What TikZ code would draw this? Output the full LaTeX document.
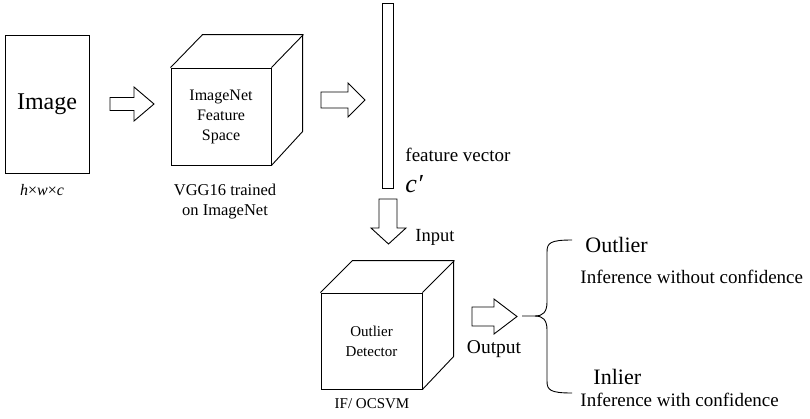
\documentclass[tikz,border=0pt]{standalone}
\usepackage{fontspec}
\setmainfont{Liberation Serif}
\begin{document}
\begin{tikzpicture}[x=1pt,y=-1pt, line width=0.9pt, line join=miter,
  fs/.style={inner sep=0pt, align=center, font=\fontsize{#1}{#1}\selectfont},
  barrow/.style={draw, fill=white},
  box/.style={draw, inner sep=0pt, align=center}]
\useasboundingbox (0,0) rectangle (810,418);

% Image
\node (img) [box, minimum width=84pt, minimum height=138pt, font=\fontsize{24}{28}\selectfont] at (47,104) {Image};
\node (dims) [fs=16] at (42,190) {{\itshape h}×{\itshape w}×{\itshape c}};

% arrow 1
\draw[barrow] (110,97.5) -- (134,97.5) -- (134,87) -- (154,104) -- (134,121) -- (134,110.5) -- (110,110.5) -- cycle;

% cube 1
\node (cube1) [box, minimum width=100pt, minimum height=97pt, font=\fontsize{16}{20}\selectfont] at (221,116.5) {ImageNet\\Feature\\Space};
\draw (cube1.north west) -- ++(32,-33) -- ++(100,0) -- ++(0,97) -- (cube1.south east);
\draw (cube1.north east) -- ++(32,-33);
\node (vgg) [inner sep=0pt, align=center, font=\fontsize{16.5}{20}\selectfont] at (225,202) {VGG16 trained\\on ImageNet};

% arrow 2
\draw[barrow] (321,92) -- (348,92) -- (348,83) -- (365,100) -- (348,117) -- (348,108) -- (321,108) -- cycle;

% feature vector
\node (vec) [box, minimum width=11pt, minimum height=185pt] at (387.5,95.5) {};
\node (fvlbl) [fs=19, anchor=west] at (405,155) {feature vector};
\node (clbl) [fs=26, anchor=west] at (405,184) {\itshape c′};

% arrow down
\draw[barrow] (379,199) -- (397,199) -- (397,228) -- (406,228) -- (388.5,244) -- (371,228) -- (379,228) -- cycle;
\node (inlbl) [fs=18.5, anchor=west] at (415,237) {Input};

% cube 2
\node (cube2) [box, minimum width=101pt, minimum height=96pt, font=\fontsize{15}{20}\selectfont] at (371.5,341) {Outlier\\Detector};
\draw (cube2.north west) -- ++(32,-32) -- ++(101,0) -- ++(0,96) -- (cube2.south east);
\draw (cube2.north east) -- ++(32,-32);
\node (iflbl) [fs=15] at (372,404) {IF/ OCSVM};

% arrow 3
\draw[barrow] (472,307) -- (494,307) -- (494,299) -- (517,316.5) -- (494,334) -- (494,326) -- (472,326) -- cycle;
\node (outlbl) [fs=19.5] at (494,349) {Output};

% brace
\coordinate (bstem) at (522,316);
\draw (bstem) -- (535,316) .. controls (543,316) and (547,312) .. (547,302) -- (547,252)
  .. controls (547,243) and (550,240) .. (572,240);
\draw (535,316) .. controls (543,316) and (547,320) .. (547,330) -- (547,381)
  .. controls (547,390) and (550,393) .. (572,393);

% outputs
\node (outlier) [fs=22, anchor=west] at (585,245) {Outlier};
\node (outinf) [fs=19, anchor=west] at (580,277) {Inference without confidence};
\node (inlier) [fs=22, anchor=west] at (593,377) {Inlier};
\node (ininf) [fs=19, anchor=west] at (580,400) {Inference with confidence};
\end{tikzpicture}
\end{document}
